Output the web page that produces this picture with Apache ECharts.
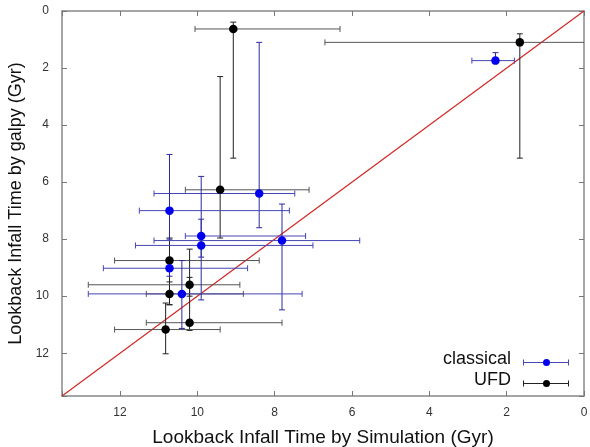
<!DOCTYPE html>
<html><head><meta charset="utf-8">
<script src="https://cdn.jsdelivr.net/npm/echarts@6/dist/echarts.min.js"></script>
<style>html,body{margin:0;padding:0;background:#fff}#c{width:590px;height:447px}</style>
</head><body><div id="c"></div>
<script>
// classical
const clX   = [2.29, 8.40, 10.72, 9.90, 9.90, 7.81, 10.72, 10.40];
const clY   = [1.74, 6.40, 7.00, 7.89, 8.22, 8.05, 9.02, 9.92];
const clXlo = [2.90, 11.12, 11.50, 10.31, 11.60, 11.12, 12.43, 12.82];
const clXhi = [1.80, 7.48, 7.62, 7.20, 7.01, 5.80, 8.70, 7.29];
const clYlo = [1.46, 1.10, 5.03, 7.30, 5.80, 6.77, 8.80, 8.75];
const clYhi = [1.80, 7.60, 8.00, 8.63, 10.13, 10.48, 9.30, 11.13];
// UFD
const ufX   = [9.07, 1.66, 9.41, 10.72, 10.72, 10.20, 10.20, 10.82];
const ufY   = [0.63, 1.10, 6.27, 8.75, 9.92, 9.60, 10.93, 11.17];
const ufXlo = [10.06, 6.70, 10.31, 12.14, 11.32, 12.82, 11.32, 12.14];
const ufXhi = [6.31, -1.00, 7.11, 8.40, 8.81, 8.90, 7.81, 9.41];
const ufYlo = [0.39, 0.80, 2.30, 7.96, 9.50, 8.35, 9.34, 10.24];
const ufYhi = [5.16, 5.16, 7.96, 10.30, 10.30, 10.00, 11.20, 12.02];
const xTicks = [0, 2, 4, 6, 8, 10, 12];
const yTicks = [0, 2, 4, 6, 8, 10, 12];
const axMax = 13.5;
const diag = [[axMax, axMax], [0, 0]];

function errData(X, Y, xl, xh, yl, yh) {
  return X.map((x, i) => [x, Y[i], xl[i], xh[i], yl[i], yh[i]]);
}
function errSeries(data, hColor, vColor) {
  return {
    type: 'custom', clip: true, silent: true, z: 2,
    data: data,
    encode: {x: [0, 2, 3], y: [1, 4, 5]},
    renderItem: function (params, api) {
      const c = api.coord([api.value(0), api.value(1)]);
      const a = api.coord([api.value(2), api.value(1)]);
      const b = api.coord([api.value(3), api.value(1)]);
      const t = api.coord([api.value(0), api.value(4)]);
      const d = api.coord([api.value(0), api.value(5)]);
      const cap = 3;
      const hs = {stroke: hColor, lineWidth: 1};
      const vs = {stroke: vColor, lineWidth: 1};
      return {
        type: 'group',
        children: [
          {type: 'line', shape: {x1: a[0], y1: c[1], x2: b[0], y2: c[1]}, style: hs},
          {type: 'line', shape: {x1: a[0], y1: c[1] - cap, x2: a[0], y2: c[1] + cap}, style: hs},
          {type: 'line', shape: {x1: b[0], y1: c[1] - cap, x2: b[0], y2: c[1] + cap}, style: hs},
          {type: 'line', shape: {x1: c[0], y1: t[1], x2: c[0], y2: d[1]}, style: vs},
          {type: 'line', shape: {x1: c[0] - cap, y1: t[1], x2: c[0] + cap, y2: t[1]}, style: vs},
          {type: 'line', shape: {x1: c[0] - cap, y1: d[1], x2: c[0] + cap, y2: d[1]}, style: vs}
        ]
      };
    }
  };
}
const tickFmt = v => (xTicks.indexOf(v) >= 0 ? String(v) : '');
const baseAxis = {
  type: 'value', min: 0, max: axMax, interval: 2, inverse: true,
  splitLine: {show: false},
  axisLine: {show: true, onZero: false, lineStyle: {color: '#888', width: 1.5}},
  axisTick: {show: true, inside: true, length: 5, lineStyle: {color: '#777'}},
};
const chart = echarts.init(document.getElementById('c'), null, {renderer: 'canvas'});
chart.setOption({
  animation: false,
  backgroundColor: '#fff',
  grid: {left: 62, right: 6, top: 11, bottom: 51, containLabel: false, outerBoundsMode: 'none'},
  xAxis: [
    Object.assign({}, baseAxis, {
      position: 'bottom',
      axisLabel: {formatter: tickFmt, color: '#333', fontSize: 12, margin: 11, fontFamily: 'Liberation Sans'},
      name: 'Lookback Infall Time by Simulation (Gyr)', nameLocation: 'middle', nameGap: 32,
      nameTextStyle: {fontSize: 19, color: '#111', fontFamily: 'Liberation Sans'}
    }),
    Object.assign({}, baseAxis, {position: 'top', axisLabel: {show: false}})
  ],
  yAxis: [
    Object.assign({}, baseAxis, {
      position: 'left',
      axisLabel: {formatter: v => (yTicks.indexOf(v) >= 0 ? String(v) : ''), color: '#333', fontSize: 12, margin: 13, fontFamily: 'Liberation Sans'},
      name: 'Lookback Infall Time by galpy (Gyr)', nameLocation: 'middle', nameGap: 35,
      nameTextStyle: {fontSize: 18, color: '#111', fontFamily: 'Liberation Sans'}
    }),
    Object.assign({}, baseAxis, {position: 'right', axisLabel: {show: false}})
  ],
  series: [
    {type: 'line', data: diag, symbol: 'none', z: 1, silent: true,
     lineStyle: {color: '#d02828', width: 1.2}},
    errSeries(errData(ufX, ufY, ufXlo, ufXhi, ufYlo, ufYhi), '#555', '#222'),
    errSeries(errData(clX, clY, clXlo, clXhi, clYlo, clYhi), '#4646b4', '#2a2aa0'),
    {type: 'scatter', data: ufX.map((x, i) => [x, ufY[i]]), symbolSize: 8.5, z: 5,
     itemStyle: {color: '#000', opacity: 1}},
    {type: 'scatter', data: clX.map((x, i) => [x, clY[i]]), symbolSize: 8.5, z: 6,
     itemStyle: {color: '#0000ee', opacity: 1}}
  ],
  graphic: [
    {type: 'text', right: 79, top: 350, style: {text: 'classical', fontSize: 18, fill: '#111', fontFamily: 'Liberation Sans'}},
    {type: 'text', right: 79, top: 371, style: {text: 'UFD', fontSize: 18, fill: '#111', fontFamily: 'Liberation Sans'}},
    {type: 'group', left: 521, top: 357, children: [
      {type: 'line', shape: {x1: 0, y1: 3, x2: 45, y2: 3}, style: {stroke: '#4646b4', lineWidth: 1}},
      {type: 'line', shape: {x1: 0, y1: 0, x2: 0, y2: 6}, style: {stroke: '#4646b4', lineWidth: 1}},
      {type: 'line', shape: {x1: 45, y1: 0, x2: 45, y2: 6}, style: {stroke: '#4646b4', lineWidth: 1}},
      {type: 'circle', shape: {cx: 23, cy: 3, r: 3.5}, style: {fill: '#0000ee'}}
    ]},
    {type: 'group', left: 521, top: 378, children: [
      {type: 'line', shape: {x1: 0, y1: 3, x2: 45, y2: 3}, style: {stroke: '#222', lineWidth: 1}},
      {type: 'line', shape: {x1: 0, y1: 0, x2: 0, y2: 6}, style: {stroke: '#222', lineWidth: 1}},
      {type: 'line', shape: {x1: 45, y1: 0, x2: 45, y2: 6}, style: {stroke: '#222', lineWidth: 1}},
      {type: 'circle', shape: {cx: 23, cy: 3, r: 3.5}, style: {fill: '#000'}}
    ]}
  ]
});
</script></body></html>
